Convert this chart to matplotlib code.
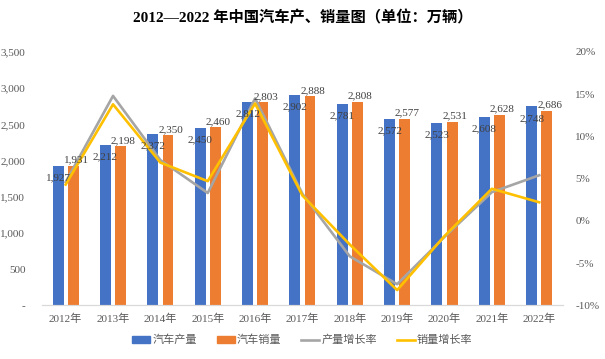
import numpy as np
import matplotlib.pyplot as plt
from matplotlib.patches import Patch
from matplotlib.lines import Line2D
from matplotlib.ticker import FuncFormatter

years = ["2012年", "2013年", "2014年", "2015年", "2016年", "2017年",
         "2018年", "2019年", "2020年", "2021年", "2022年"]
production = [1927, 2212, 2372, 2450, 2812, 2902, 2781, 2572, 2523, 2608, 2748]
sales = [1931, 2198, 2350, 2460, 2803, 2888, 2808, 2577, 2531, 2628, 2686]
prod_growth = [4.6, 14.8, 7.2, 3.3, 14.5, 3.2, -4.2, -7.5, -1.9, 3.4, 5.4]
sales_growth = [4.3, 13.8, 6.9, 4.7, 13.9, 3.0, -2.8, -8.2, -1.8, 3.8, 2.2]

BLUE = "#4472C4"
ORANGE = "#ED7D31"
GRAY = "#A5A5A5"
YELLOW = "#FFC000"
TXT = "#595959"

plt.rcParams['font.family'] = ["Liberation Serif", "Noto Sans CJK SC", "DejaVu Sans"]

fig = plt.figure(figsize=(6.05, 3.59), dpi=100)
ax = fig.add_axes([0.0694, 0.1496, 0.861, 0.7056])
ax2 = ax.twinx()

x = np.arange(len(years))
w = 0.23
off = 0.16
ax.bar(x - off, production, w, color=BLUE, zorder=2)
ax.bar(x + off, sales, w, color=ORANGE, zorder=2)

ax.set_xlim(-0.5, len(years) - 0.5)
ax.set_ylim(0, 3500)
ax.set_yticks(np.arange(0, 3501, 500))
ax.yaxis.set_major_formatter(FuncFormatter(lambda v, p: "-" if v == 0 else f"{int(v):,}"))
ax.set_xticks(x)
ax.set_xticklabels(years)
ax.tick_params(axis='both', length=0, labelsize=8, colors=TXT)
ax.tick_params(axis='y', pad=12)
ax.tick_params(axis='x', pad=6)

# growth lines on the secondary axis
ax2.plot(x, prod_growth, color=GRAY, lw=1.9, zorder=3)
ax2.plot(x, sales_growth, color=YELLOW, lw=1.9, zorder=4)
ax2.set_ylim(-10, 20)
ax2.set_yticks(np.arange(-10, 21, 5))
ax2.yaxis.set_major_formatter(FuncFormatter(lambda v, p: f"{int(v)}%"))
ax2.tick_params(axis='y', length=0, labelsize=8, colors=TXT, pad=9)

for a in (ax, ax2):
    for s in ("top", "left", "right"):
        a.spines[s].set_visible(False)
    a.spines["bottom"].set_color("#D9D9D9")

# data labels, put on ax2 so they sit above the lines
for i in range(len(years)):
    ax2.annotate(f"{production[i]:,}", (x[i] - off, production[i]), xycoords=ax.transData,
                 xytext=(0, -8.6), textcoords="offset points", ha="center", va="center",
                 fontsize=8, color="#404040", zorder=6)
    ax2.annotate(f"{sales[i]:,}", (x[i] + off, sales[i]), xycoords=ax.transData,
                 xytext=(2, 1), textcoords="offset points", ha="center", va="bottom",
                 fontsize=8, color="#404040", zorder=6)

fig.text(0.5, 0.952, "2012—2022 年中国汽车产、销量图（单位：万辆）", ha="center", va="center",
         fontsize=11, fontweight="bold", color="black")

handles = [Patch(color=BLUE), Patch(color=ORANGE),
           Line2D([], [], color=GRAY, lw=1.9), Line2D([], [], color=YELLOW, lw=1.9)]
labels = ["汽车产量", "汽车销量", "产量增长率", "销量增长率"]
leg = fig.legend(handles, labels, loc="center", bbox_to_anchor=(0.5, 0.053), ncol=4,
                 frameon=False, fontsize=8, handlelength=1.6, handleheight=0.5,
                 handletextpad=0.2, columnspacing=1.8)
for t in leg.get_texts():
    t.set_color(TXT)

fig.savefig("out.png", dpi=100)
